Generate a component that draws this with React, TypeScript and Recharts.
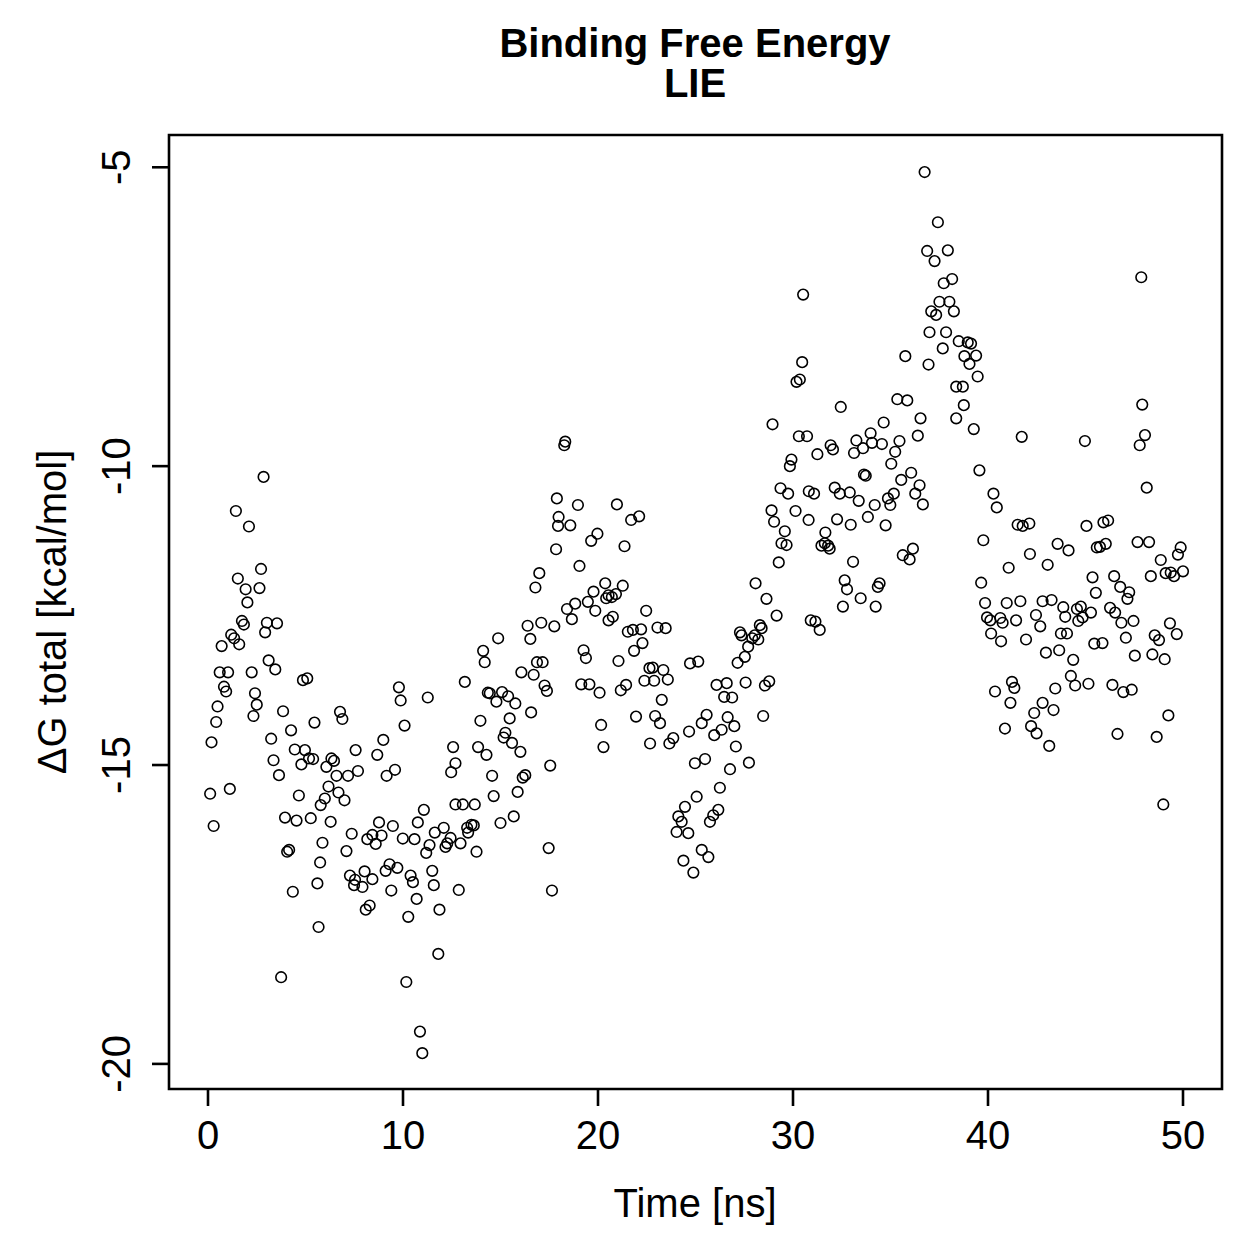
import { ScatterChart, Scatter, XAxis, YAxis, ReferenceArea } from "recharts"

const font = "'Liberation Sans', Arial, Helvetica, sans-serif"

const xTicks = [0, 10, 20, 30, 40, 50]
const yTicks = [-20, -15, -10, -5]

// [time ns, dG kcal/mol] in time slices
const pts0to6 = [
  [2.85, -10.18], [1.43, -10.75], [2.1, -11.01], [2.72, -11.72], [1.53, -11.88], [1.93, -12.06],
  [2.64, -12.04], [2.02, -12.28], [1.74, -12.59], [1.84, -12.65], [3.02, -12.62], [3.54, -12.63],
  [2.93, -12.78], [1.19, -12.82], [1.34, -12.88], [1.6, -12.98], [0.7, -13.01], [3.11, -13.25],
  [3.45, -13.4], [0.6, -13.45], [1.03, -13.45], [2.24, -13.45], [4.87, -13.58], [5.09, -13.55],
  [0.82, -13.69], [0.93, -13.77], [2.41, -13.8], [2.5, -13.99], [2.33, -14.18], [0.49, -14.02],
  [3.85, -14.1], [0.42, -14.28], [5.46, -14.29], [4.26, -14.42], [0.18, -14.62], [3.24, -14.56],
  [4.45, -14.74], [4.97, -14.75], [5.18, -14.89], [5.39, -14.9], [4.79, -14.99], [3.36, -14.92],
  [3.64, -15.17], [0.11, -15.48], [1.12, -15.4], [4.66, -15.51], [3.95, -15.88], [4.54, -15.93],
  [5.27, -15.89], [0.29, -16.02], [4.06, -16.45], [4.16, -16.42], [4.35, -17.12], [3.75, -18.55],
]

const pts6to12 = [
  [9.79, -13.7], [9.88, -13.92], [11.27, -13.87], [6.77, -14.11], [6.89, -14.23], [10.08, -14.34],
  [8.99, -14.58], [7.57, -14.75], [8.68, -14.83], [6.33, -14.89], [6.46, -14.93], [6.07, -15.03],
  [6.59, -15.18], [7.18, -15.18], [7.69, -15.1], [9.16, -15.18], [9.59, -15.08], [6.18, -15.36],
  [6.69, -15.46], [7.0, -15.59], [5.99, -15.56], [5.78, -15.67], [11.07, -15.75], [10.76, -15.96],
  [8.77, -15.96], [6.29, -15.95], [9.48, -16.02], [7.37, -16.15], [8.43, -16.17], [8.9, -16.18],
  [8.17, -16.24], [8.6, -16.32], [9.99, -16.23], [10.59, -16.24], [5.87, -16.3], [7.1, -16.44],
  [11.63, -16.13], [11.36, -16.34], [11.19, -16.47], [5.75, -16.63], [7.28, -16.85], [7.54, -16.92],
  [7.49, -17.01], [7.92, -17.04], [8.03, -16.78], [8.43, -16.91], [9.11, -16.77], [9.31, -16.66],
  [9.71, -16.72], [10.39, -16.85], [10.51, -16.96], [11.5, -16.77], [11.58, -17.01], [5.61, -16.98],
  [9.4, -17.1], [10.7, -17.24], [8.09, -17.42], [8.29, -17.35], [10.27, -17.54], [11.87, -17.42],
  [5.67, -17.71], [11.81, -18.16], [10.17, -18.63], [10.87, -19.46], [10.99, -19.82],
]

const pts12to18 = [
  [17.89, -10.54], [17.98, -10.85], [17.95, -11.0], [17.85, -11.39], [16.99, -11.79], [16.79, -12.03],
  [16.39, -12.67], [17.09, -12.62], [17.76, -12.68], [16.53, -12.89], [14.88, -12.88], [14.11, -13.09],
  [14.19, -13.28], [16.07, -13.45], [16.7, -13.49], [16.87, -13.28], [17.16, -13.28], [17.26, -13.67],
  [17.38, -13.76], [13.17, -13.61], [14.35, -13.79], [14.45, -13.8], [14.79, -13.94], [15.08, -13.78],
  [15.39, -13.85], [15.76, -13.97], [16.57, -14.12], [15.47, -14.22], [13.97, -14.26], [15.25, -14.46],
  [15.16, -14.54], [15.59, -14.63], [16.02, -14.78], [13.85, -14.7], [14.28, -14.83], [12.57, -14.7],
  [12.69, -14.97], [12.47, -15.12], [17.55, -15.01], [14.57, -15.18], [16.14, -15.21], [16.27, -15.17],
  [14.65, -15.52], [15.88, -15.45], [12.69, -15.66], [13.07, -15.66], [13.68, -15.66], [15.0, -15.97],
  [15.68, -15.86], [12.09, -16.05], [13.29, -16.05], [13.51, -16.0], [13.63, -16.01], [13.34, -16.13],
  [12.44, -16.22], [12.27, -16.31], [12.18, -16.37], [12.95, -16.31], [13.77, -16.45], [17.47, -16.39],
  [12.86, -17.09], [17.64, -17.1],
]

const pts18to24 = [
  [18.32, -9.59], [18.27, -9.65], [18.97, -10.65], [20.97, -10.64], [22.11, -10.84], [21.7, -10.9],
  [18.58, -10.99], [19.97, -11.13], [19.65, -11.25], [21.36, -11.34], [19.05, -11.67], [20.37, -11.96],
  [21.27, -12.0], [19.77, -12.1], [20.54, -12.16], [20.71, -12.19], [20.92, -12.14], [20.42, -12.21],
  [19.48, -12.27], [18.83, -12.3], [18.41, -12.39], [18.66, -12.56], [19.86, -12.42], [20.54, -12.58],
  [20.76, -12.52], [22.47, -12.42], [21.53, -12.77], [21.79, -12.74], [22.21, -12.73], [22.28, -12.96],
  [21.85, -13.09], [23.05, -12.7], [23.47, -12.71], [19.26, -13.08], [19.38, -13.21], [21.05, -13.26],
  [22.64, -13.38], [22.81, -13.37], [23.35, -13.41], [22.38, -13.59], [22.88, -13.59], [23.58, -13.57],
  [19.14, -13.65], [19.56, -13.65], [20.08, -13.79], [21.17, -13.75], [21.44, -13.66], [23.27, -13.91],
  [21.95, -14.19], [22.93, -14.18], [23.18, -14.3], [20.16, -14.33], [22.67, -14.64], [23.66, -14.64],
  [23.86, -14.55], [20.28, -14.7],
]

const pts24to30 = [
  [28.95, -9.3], [29.92, -9.89], [29.84, -10.0], [29.36, -10.37], [29.75, -10.46], [30.13, -10.75],
  [28.9, -10.74], [29.03, -10.93], [29.58, -11.09], [29.41, -11.29], [29.67, -11.32], [29.27, -11.61],
  [28.08, -11.96], [28.64, -12.22], [29.16, -12.5], [27.28, -12.78], [27.36, -12.83], [28.3, -12.66],
  [28.39, -12.71], [28.04, -12.83], [27.91, -12.88], [28.22, -12.9], [27.7, -13.02], [27.53, -13.19],
  [27.16, -13.29], [24.72, -13.3], [25.14, -13.27], [26.08, -13.66], [26.6, -13.63], [26.47, -13.86],
  [26.88, -13.87], [27.57, -13.62], [28.56, -13.67], [28.78, -13.6], [28.47, -14.18], [25.57, -14.16],
  [25.32, -14.3], [24.67, -14.44], [26.65, -14.2], [26.99, -14.35], [26.34, -14.41], [25.96, -14.5],
  [27.07, -14.69], [24.97, -14.97], [25.49, -14.9], [26.77, -15.07], [27.74, -14.96], [26.25, -15.38],
  [25.06, -15.53], [24.46, -15.7], [26.17, -15.75], [25.91, -15.84], [25.74, -15.95], [24.12, -15.86],
  [24.29, -15.95], [24.03, -16.12], [24.63, -16.14], [25.32, -16.42], [25.66, -16.54], [24.38, -16.6],
  [24.89, -16.8],
]

const pts30to36 = [
  [30.52, -7.13], [35.76, -8.16], [30.47, -8.26], [30.35, -8.55], [30.18, -8.59], [35.35, -8.88],
  [35.86, -8.9], [32.45, -9.01], [34.65, -9.27], [30.3, -9.5], [30.72, -9.5], [31.93, -9.65],
  [32.05, -9.72], [33.25, -9.57], [33.98, -9.45], [34.05, -9.61], [34.56, -9.63], [35.46, -9.58],
  [33.13, -9.78], [33.59, -9.7], [31.25, -9.8], [35.24, -9.76], [35.04, -9.96], [33.64, -10.14],
  [33.73, -10.16], [36.06, -10.11], [35.55, -10.23], [36.27, -10.46], [30.81, -10.42], [31.08, -10.46],
  [32.14, -10.36], [32.4, -10.46], [32.91, -10.44], [33.37, -10.58], [34.19, -10.65], [34.87, -10.54],
  [35.17, -10.46], [34.99, -10.65], [30.8, -10.9], [32.26, -10.89], [32.96, -10.98], [33.84, -10.85],
  [34.75, -10.99], [31.66, -11.11], [31.46, -11.33], [31.8, -11.33], [31.88, -11.38], [31.63, -11.29],
  [33.08, -11.6], [35.63, -11.49], [35.98, -11.56], [36.15, -11.38], [32.65, -11.91], [32.77, -12.06],
  [34.44, -11.96], [34.35, -12.02], [33.47, -12.21], [32.56, -12.35], [34.24, -12.35], [30.91, -12.58],
  [31.15, -12.6], [31.37, -12.74],
]

const pts36to42 = [
  [36.75, -5.08], [37.43, -5.92], [36.88, -6.4], [37.26, -6.57], [37.94, -6.39], [37.73, -6.94],
  [38.16, -6.87], [37.51, -7.25], [38.02, -7.25], [37.09, -7.41], [37.34, -7.47], [38.25, -7.41],
  [37.0, -7.76], [37.85, -7.76], [37.68, -8.03], [38.5, -7.91], [38.96, -7.93], [39.13, -7.95],
  [38.79, -8.16], [39.39, -8.15], [39.05, -8.29], [36.95, -8.3], [39.47, -8.5], [38.37, -8.67],
  [38.71, -8.67], [38.76, -8.98], [38.37, -9.2], [39.27, -9.38], [36.54, -9.2], [36.4, -9.49],
  [41.73, -9.51], [39.56, -10.07], [36.49, -10.32], [36.66, -10.64], [40.28, -10.46], [40.45, -10.69],
  [41.52, -10.98], [41.78, -11.0], [42.12, -10.96], [39.76, -11.24], [42.15, -11.47], [41.06, -11.7],
  [39.65, -11.95], [39.85, -12.29], [40.96, -12.29], [41.66, -12.26], [39.95, -12.53], [40.12, -12.58],
  [40.63, -12.54], [40.75, -12.62], [41.44, -12.58], [42.46, -12.49], [40.16, -12.8], [40.67, -12.93],
  [41.95, -12.9], [41.23, -13.61], [41.35, -13.71], [40.36, -13.77], [41.15, -13.96], [42.37, -14.13],
  [42.21, -14.35], [40.87, -14.39],
]

const pts42to50 = [
  [47.86, -6.84], [47.91, -8.97], [44.97, -9.58], [48.05, -9.48], [47.78, -9.65], [48.14, -10.36],
  [45.05, -11.0], [45.92, -10.94], [46.16, -10.91], [43.57, -11.3], [44.13, -11.41], [45.58, -11.36],
  [45.74, -11.35], [46.04, -11.3], [47.67, -11.27], [48.26, -11.27], [43.06, -11.65], [49.88, -11.36],
  [49.74, -11.48], [48.86, -11.57], [48.35, -11.84], [49.11, -11.79], [49.37, -11.78], [49.54, -11.84],
  [50.0, -11.76], [45.36, -11.86], [46.47, -11.84], [46.78, -12.02], [47.24, -12.11], [47.15, -12.22],
  [45.53, -12.12], [42.8, -12.26], [43.26, -12.24], [42.68, -12.68], [43.86, -12.36], [43.96, -12.52],
  [44.56, -12.39], [44.76, -12.35], [44.85, -12.53], [44.63, -12.59], [45.28, -12.45], [46.26, -12.37],
  [46.52, -12.45], [46.84, -12.62], [47.46, -12.59], [43.74, -12.8], [44.05, -12.8], [49.33, -12.63],
  [49.68, -12.81], [48.55, -12.83], [48.77, -12.91], [47.07, -12.87], [45.45, -12.97], [45.87, -12.96],
  [42.97, -13.12], [43.65, -13.08], [44.37, -13.24], [47.53, -13.17], [48.43, -13.15], [49.06, -13.23],
  [44.25, -13.51], [44.47, -13.67], [45.15, -13.64], [46.38, -13.66], [46.94, -13.78], [47.37, -13.74],
  [43.45, -13.72], [42.8, -13.96], [43.36, -14.08], [42.49, -14.47], [43.14, -14.68], [49.25, -14.17],
  [46.64, -14.48], [48.65, -14.53], [48.99, -15.66],
]

const data = [
  ...pts0to6, ...pts6to12, ...pts12to18, ...pts18to24,
  ...pts24to30, ...pts30to36, ...pts36to42, ...pts42to50,
].map(([t, dG]) => ({ t, dG }))

function XTick({ x, y, payload }: any) {
  return (
    <text x={x} y={y + 43} textAnchor="middle" fontSize={40} fontFamily={font} fill="#000">
      {payload.value}
    </text>
  )
}

function YTick({ x, y, payload }: any) {
  const bx = x - 22
  return (
    <text x={bx} y={y} transform={`rotate(-90 ${bx} ${y})`} textAnchor="middle" fontSize={40} fontFamily={font} fill="#000">
      {payload.value}
    </text>
  )
}

const ring = (p: any) => <circle cx={p.cx} cy={p.cy} r={5.3} fill="none" stroke="#000" strokeWidth={1.6} />

export default function App() {
  return (
    <div style={{ position: "absolute", left: 0, top: 0, width: 1259, height: 1259, background: "#fff" }}>
      <ScatterChart width={1259} height={1259} margin={{ top: 135, right: 37, bottom: 0, left: 0 }}>
        <XAxis
          type="number"
          dataKey="t"
          domain={[-2, 52]}
          ticks={xTicks}
          height={170}
          axisLine={false}
          tickSize={17}
          tickMargin={0}
          tickLine={{ stroke: "#000", strokeWidth: 2.6 }}
          tick={<XTick />}
          allowDataOverflow
        />
        <YAxis
          type="number"
          dataKey="dG"
          domain={[-20.42, -4.46]}
          ticks={yTicks}
          width={169}
          axisLine={false}
          tickSize={17}
          tickMargin={0}
          tickLine={{ stroke: "#000", strokeWidth: 2.6 }}
          tick={<YTick />}
          allowDataOverflow
        />
        <ReferenceArea x1={-2} x2={52} y1={-20.42} y2={-4.46} fill="none" fillOpacity={0} stroke="#000" strokeWidth={2.6} />
        <Scatter data={data} shape={ring} isAnimationActive={false} />
      </ScatterChart>
      <svg width={1259} height={1259} style={{ position: "absolute", left: 0, top: 0, pointerEvents: "none" }}>
        <text x={695} y={57} textAnchor="middle" fontSize={40} fontWeight="bold" fontFamily={font} fill="#000">
          Binding Free Energy
        </text>
        <text x={695} y={97} textAnchor="middle" fontSize={40} fontWeight="bold" fontFamily={font} fill="#000">
          LIE
        </text>
        <text x={695} y={1217} textAnchor="middle" fontSize={40} fontFamily={font} fill="#000">
          Time [ns]
        </text>
        <text x={66} y={612} transform="rotate(-90 66 612)" textAnchor="middle" fontSize={40} fontFamily={font} fill="#000">
          ΔG total [kcal/mol]
        </text>
      </svg>
    </div>
  )
}
